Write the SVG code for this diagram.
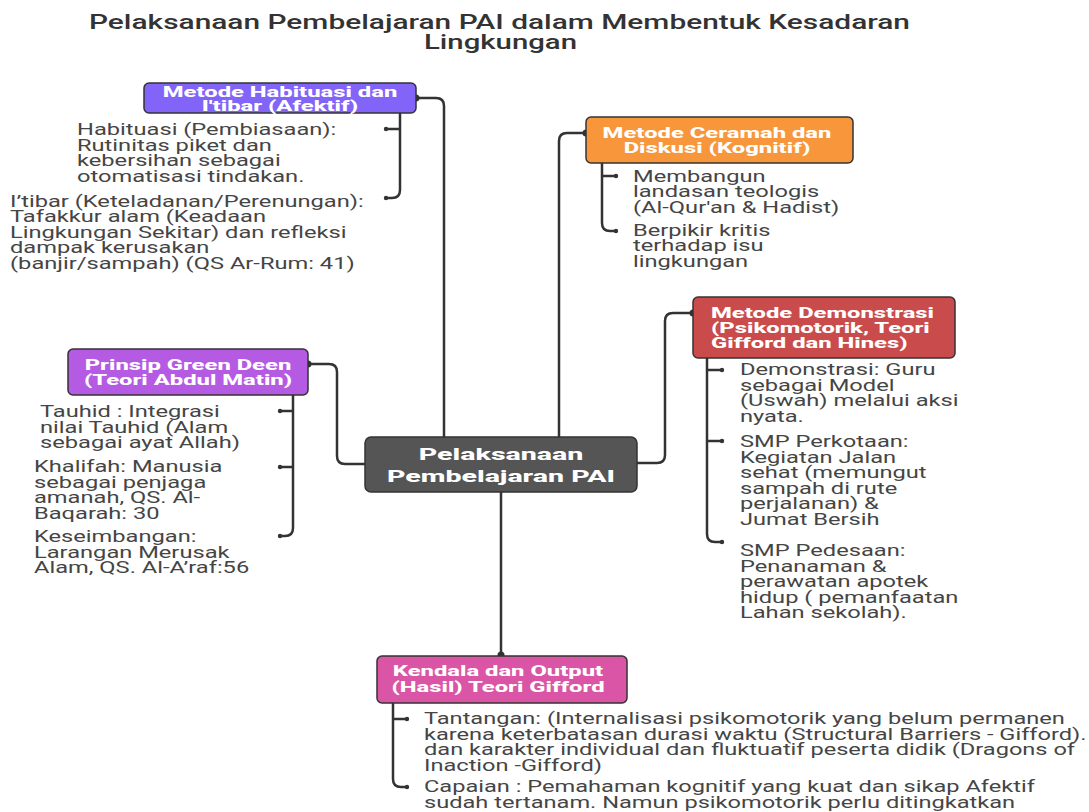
<svg xmlns="http://www.w3.org/2000/svg" width="1089" height="812" viewBox="0 0 1089 812">
<style>
.title{font-family:Roboto,"Liberation Sans",sans-serif;font-weight:500;font-size:19.5px;fill:#333}
.body{font-family:Roboto,"Liberation Sans",sans-serif;font-size:16px;fill:#454545}
.lbl{font-family:Roboto,"Liberation Sans",sans-serif;font-weight:800;font-size:14px;fill:#fff}
.clbl{font-family:Roboto,"Liberation Sans",sans-serif;font-weight:800;font-size:16.5px;fill:#fff}
.box{stroke:#333;stroke-width:1.5}
.conn path{fill:none;stroke:#333;stroke-width:2.5;stroke-linecap:round}
.dot{fill:#333}
</style>
<rect width="1089" height="812" fill="#fff"/>
<g id="title">
<text class="title" x="89" y="29" textLength="821" lengthAdjust="spacingAndGlyphs">Pelaksanaan Pembelajaran PAI dalam Membentuk Kesadaran</text>
<text class="title" x="424" y="49" textLength="153" lengthAdjust="spacingAndGlyphs">Lingkungan</text>
</g>
<g class="conn" id="connectors">
<path d="M444 437V106Q444 98 436 98H416"/>
<path d="M559 437V141Q559 133 567 133H586"/>
<path d="M637 463H657Q665 463 665 455V321Q665 313 673 313H693"/>
<path d="M365 464H345Q337 464 337 456V372Q337 364 329 364H308"/>
<path d="M501 492V655"/>
<path d="M400 113V190Q400 198 392 198H386M400 129H386"/>
<path d="M602 163V223Q602 231 610 231H616M602 176H616"/>
<path d="M707 358V534Q707 542 715 542H722M707 370H722M707 441H722"/>
<path d="M293 395V528Q293 536 285 536H280M293 411H280M293 467H280"/>
<path d="M393 703V779Q393 787 401 787H407M393 719H407"/>
<circle class="dot" cx="416" cy="98" r="3.5"/>
<circle class="dot" cx="586" cy="133" r="3.5"/>
<circle class="dot" cx="693" cy="313" r="3.5"/>
<circle class="dot" cx="308" cy="364" r="3.5"/>
<circle class="dot" cx="501" cy="655" r="3.5"/>
<circle class="dot" cx="386" cy="129" r="2.2"/>
<circle class="dot" cx="386" cy="198" r="2.2"/>
<circle class="dot" cx="616" cy="176" r="2.2"/>
<circle class="dot" cx="616" cy="231" r="2.2"/>
<circle class="dot" cx="722" cy="370" r="2.2"/>
<circle class="dot" cx="722" cy="441" r="2.2"/>
<circle class="dot" cx="722" cy="542" r="2.2"/>
<circle class="dot" cx="280" cy="411" r="2.2"/>
<circle class="dot" cx="280" cy="467" r="2.2"/>
<circle class="dot" cx="280" cy="536" r="2.2"/>
<circle class="dot" cx="407" cy="719" r="2.2"/>
<circle class="dot" cx="407" cy="787" r="2.2"/>
</g>
<g id="center">
<rect class="box" x="365" y="437" width="272" height="55" rx="6" fill="#555"/>
<text class="clbl" text-anchor="middle" transform="translate(501 460) scale(1.73 1)"><tspan x="0" y="0">Pelaksanaan</tspan><tspan x="0" y="22.5">Pembelajaran PAI</tspan></text>
</g>
<g id="habituasi">
<rect class="box" x="144" y="83" width="272" height="30" rx="5" fill="#8264F8"/>
<text class="lbl" text-anchor="middle" transform="translate(280 97) scale(1.7 1)"><tspan x="0" y="0">Metode Habituasi dan</tspan><tspan x="0" y="14">I'tibar (Afektif)</tspan></text>
<text class="body" transform="translate(77 135) scale(1.48 1)"><tspan x="0" y="0">Habituasi (Pembiasaan):</tspan><tspan x="0" y="15.6">Rutinitas piket dan</tspan><tspan x="0" y="31.2">kebersihan sebagai</tspan><tspan x="0" y="46.8">otomatisasi tindakan.</tspan></text>
<text class="body" transform="translate(10 206.5) scale(1.48 1)"><tspan x="0" y="0">I’tibar (Keteladanan/Perenungan):</tspan><tspan x="0" y="15.6">Tafakkur alam (Keadaan</tspan><tspan x="0" y="31.2">Lingkungan Sekitar) dan refleksi</tspan><tspan x="0" y="46.8">dampak kerusakan</tspan><tspan x="0" y="62.4">(banjir/sampah) (QS Ar-Rum: 41)</tspan></text>
</g>
<g id="ceramah">
<rect class="box" x="586" y="117" width="267" height="46" rx="5" fill="#F7963B"/>
<text class="lbl" text-anchor="middle" transform="translate(717 138) scale(1.7 1)"><tspan x="0" y="0">Metode Ceramah dan</tspan><tspan x="0" y="15">Diskusi (Kognitif)</tspan></text>
<text class="body" transform="translate(633 181.5) scale(1.48 1)"><tspan x="0" y="0">Membangun</tspan><tspan x="0" y="15.6">landasan teologis</tspan><tspan x="0" y="31.2">(Al-Qur'an &amp; Hadist)</tspan></text>
<text class="body" transform="translate(633 235.5) scale(1.48 1)"><tspan x="0" y="0">Berpikir kritis</tspan><tspan x="0" y="15.6">terhadap isu</tspan><tspan x="0" y="31.2">lingkungan</tspan></text>
</g>
<g id="demonstrasi">
<rect class="box" x="693" y="297" width="262" height="61" rx="5" fill="#C94B4B"/>
<text class="lbl" transform="translate(711 318) scale(1.7 1)"><tspan x="0" y="0">Metode Demonstrasi</tspan><tspan x="0" y="15">(Psikomotorik, Teori</tspan><tspan x="0" y="30">Gifford dan Hines)</tspan></text>
<text class="body" transform="translate(740 375) scale(1.48 1)"><tspan x="0" y="0">Demonstrasi: Guru</tspan><tspan x="0" y="15.6">sebagai Model</tspan><tspan x="0" y="31.2">(Uswah) melalui aksi</tspan><tspan x="0" y="46.8">nyata.</tspan></text>
<text class="body" transform="translate(740 447) scale(1.48 1)"><tspan x="0" y="0">SMP Perkotaan:</tspan><tspan x="0" y="15.6">Kegiatan Jalan</tspan><tspan x="0" y="31.2">sehat (memungut</tspan><tspan x="0" y="46.8">sampah di rute</tspan><tspan x="0" y="62.4">perjalanan) &amp;</tspan><tspan x="0" y="78">Jumat Bersih</tspan></text>
<text class="body" transform="translate(740 556) scale(1.48 1)"><tspan x="0" y="0">SMP Pedesaan:</tspan><tspan x="0" y="15.6">Penanaman &amp;</tspan><tspan x="0" y="31.2">perawatan apotek</tspan><tspan x="0" y="46.8">hidup ( pemanfaatan</tspan><tspan x="0" y="62.4">Lahan sekolah).</tspan></text>
</g>
<g id="greendeen">
<rect class="box" x="68" y="349" width="240" height="46" rx="5" fill="#B55AE3"/>
<text class="lbl" text-anchor="middle" transform="translate(188 370) scale(1.7 1)"><tspan x="0" y="0">Prinsip Green Deen</tspan><tspan x="0" y="15">(Teori Abdul Matin)</tspan></text>
<text class="body" transform="translate(40 417) scale(1.48 1)"><tspan x="0" y="0">Tauhid : Integrasi</tspan><tspan x="0" y="15.6">nilai Tauhid (Alam</tspan><tspan x="0" y="31.2">sebagai ayat Allah)</tspan></text>
<text class="body" transform="translate(34 472) scale(1.48 1)"><tspan x="0" y="0">Khalifah: Manusia</tspan><tspan x="0" y="15.6">sebagai penjaga</tspan><tspan x="0" y="31.2">amanah, QS. Al-</tspan><tspan x="0" y="46.8">Baqarah: 30</tspan></text>
<text class="body" transform="translate(34 542) scale(1.48 1)"><tspan x="0" y="0">Keseimbangan:</tspan><tspan x="0" y="15.6">Larangan Merusak</tspan><tspan x="0" y="31.2">Alam, QS. Al-A’raf:56</tspan></text>
</g>
<g id="kendala">
<rect class="box" x="377" y="656" width="250" height="47" rx="5" fill="#DA55A5"/>
<text class="lbl" text-anchor="middle" transform="translate(498 676) scale(1.7 1)"><tspan x="0" y="0">Kendala dan Output</tspan><tspan x="0" y="16">(Hasil) Teori Gifford</tspan></text>
<text class="body" transform="translate(424 724) scale(1.475 1)"><tspan x="0" y="0">Tantangan: (Internalisasi psikomotorik yang belum permanen</tspan><tspan x="0" y="15.6">karena keterbatasan durasi waktu (Structural Barriers - Gifford).</tspan><tspan x="0" y="31.2">dan karakter individual dan fluktuatif peserta didik (Dragons of</tspan><tspan x="0" y="46.8">Inaction -Gifford)</tspan></text>
<text class="body" transform="translate(424 792) scale(1.475 1)"><tspan x="0" y="0">Capaian : Pemahaman kognitif yang kuat dan sikap Afektif</tspan><tspan x="0" y="15.6">sudah tertanam. Namun psikomotorik perlu ditingkatkan</tspan></text>
</g>
</svg>
